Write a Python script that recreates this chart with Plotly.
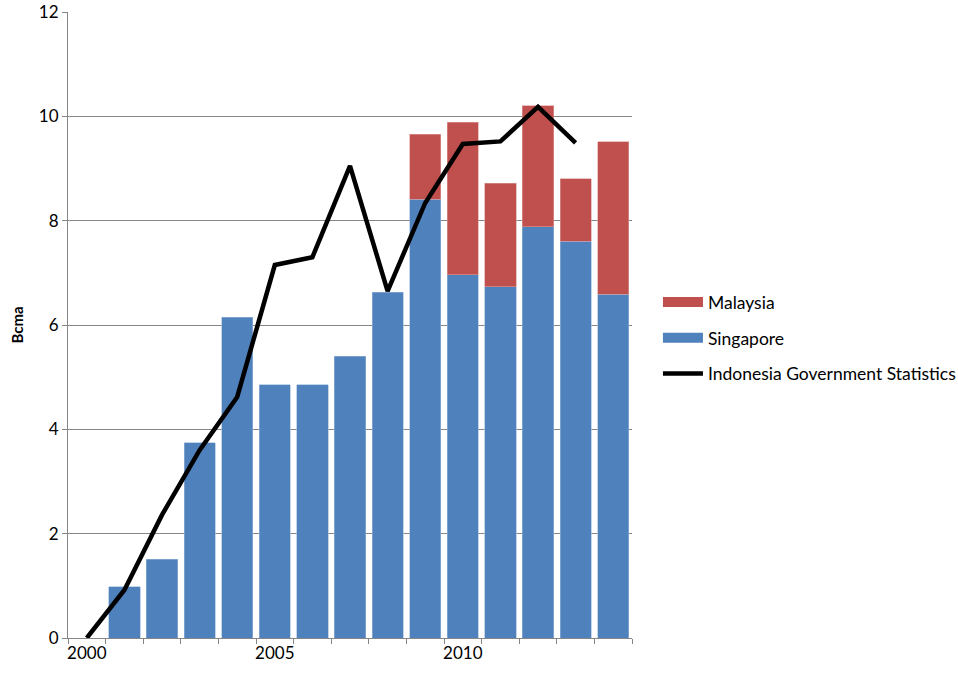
import plotly.graph_objects as go

years = list(range(2000, 2015))
singapore = [None, 0.98, 1.51, 3.74, 6.15, 4.85, 4.85, 5.40, 6.63, 8.41, 6.96, 6.73, 7.88, 7.61, 6.59]
malaysia = [None, None, None, None, None, None, None, None, None, 1.25, 2.93, 1.99, 2.32, 1.19, 2.92]
line_years = list(range(2000, 2014))
indonesia = [0.0, 0.92, 2.36, 3.6, 4.62, 7.15, 7.3, 9.05, 6.65, 8.34, 9.47, 9.52, 10.18, 9.49]

BLUE = "#4F81BD"
RED = "#C0504D"
font = "Lato, 'Open Sans', sans-serif"

fig = go.Figure()
fig.add_trace(go.Bar(x=years, y=singapore, name="Singapore", marker_color=BLUE,
                     marker_line=dict(color="#9DB7DA", width=0.6), width=0.83,
                     showlegend=False))
fig.add_trace(go.Bar(x=years, y=malaysia, name="Malaysia", marker_color=RED,
                     marker_line=dict(color="#DA9D9B", width=0.6), width=0.83,
                     showlegend=False))
fig.add_trace(go.Scatter(x=line_years, y=indonesia, name="Indonesia Government Statistics",
                         mode="lines", line=dict(color="black", width=4.5),
                         legendrank=3, legendgroup="i"))
# legend keys drawn as wide rectangles, like the original
fig.add_trace(go.Scatter(x=[None], y=[None], name="Malaysia", mode="lines",
                         line=dict(color=RED, width=10), legendrank=1, legendgroup="m"))
fig.add_trace(go.Scatter(x=[None], y=[None], name="Singapore", mode="lines",
                         line=dict(color=BLUE, width=10), legendrank=2, legendgroup="s"))

fig.update_layout(
    barmode="stack",
    width=958, height=676,
    margin=dict(l=68, r=326, t=12, b=38, autoexpand=False),
    plot_bgcolor="white", paper_bgcolor="white",
    font=dict(family=font, size=17, color="black"),
    showlegend=True,
    legend=dict(x=1.046, y=0.479, xanchor="left", yanchor="middle",
                font=dict(size=17.5), tracegroupgap=10, traceorder="grouped",
                itemwidth=40),
    xaxis=dict(range=[1999.5, 2014.5], tickmode="array", tickvals=[2000, 2005, 2010],
               ticks="", showgrid=False, showline=True, linecolor="#868686", linewidth=1,
               tickfont=dict(size=17), automargin=False, ticklabeloverflow="allow",
               minor=dict(tickmode="linear", tick0=1999.5, dtick=1, ticks="outside",
                          ticklen=5, tickcolor="#868686", showgrid=False),
               zeroline=False),
    yaxis=dict(range=[0, 12], tickvals=[0, 2, 4, 6, 8, 10, 12], showgrid=True,
               gridcolor="#868686", gridwidth=1, showline=True, linecolor="#868686",
               ticks="outside", ticklen=5, tickcolor="#868686", zeroline=False,
               tickfont=dict(size=17), automargin=False, ticklabeloverflow="allow",
               title=dict(text="<b>Bcma</b>", font=dict(size=15), standoff=11)),
)

fig.write_html("out.html", config={"displayModeBar": False},
               post_script="document.body.style.margin='0';")
